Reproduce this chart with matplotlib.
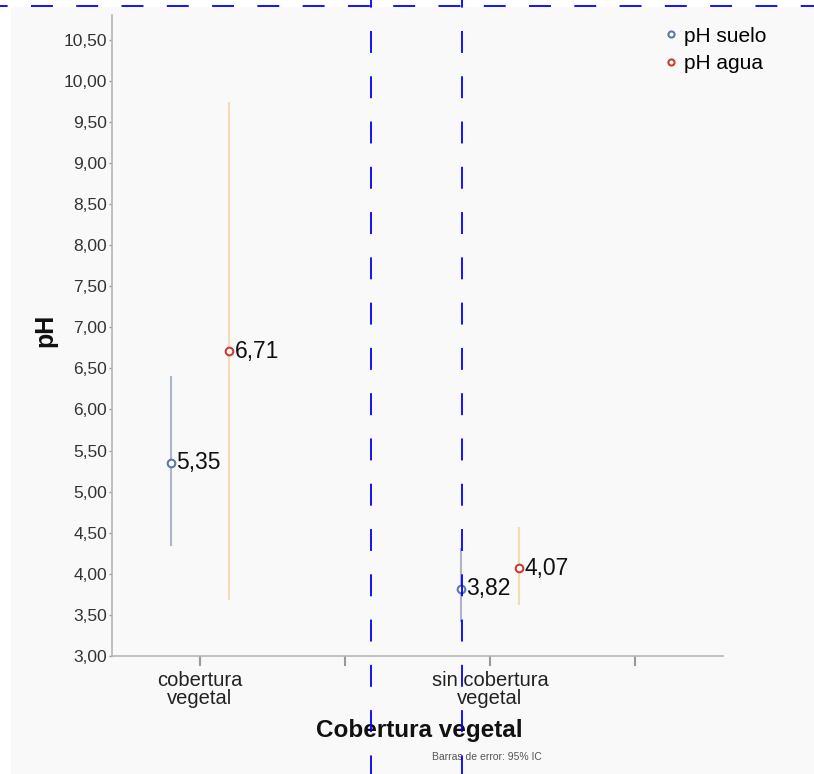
import matplotlib
matplotlib.use("Agg")
import matplotlib.pyplot as plt
from matplotlib.lines import Line2D
from matplotlib.patches import Rectangle
import numpy as np

plt.rcParams['font.family'] = ['Liberation Sans', 'DejaVu Sans']
plt.rcParams['lines.scale_dashes'] = False

# data
categories = ["cobertura\nvegetal", "sin cobertura\nvegetal"]
ph_suelo = [5.35, 3.82]
ph_suelo_lo = [4.34, 3.41]
ph_suelo_hi = [6.41, 4.31]
ph_agua = [6.71, 4.07]
ph_agua_lo = [3.68, 3.62]
ph_agua_hi = [9.74, 4.57]
yticks = np.arange(3.0, 10.51, 0.5)

W, H = 814, 774
fig = plt.figure(figsize=(W / 100, H / 100), dpi=100)
fig.patch.set_facecolor("white")
bg = "#f9f9f9"
fig.add_artist(Rectangle((11 / W, 0), 1, 1 - 7 / H, transform=fig.transFigure,
                         facecolor=bg, edgecolor="none", zorder=-10))

ax = fig.add_axes([112 / W, 1 - 656 / H, (723 - 112) / W, (656 - 15) / H])
ax.set_facecolor(bg)

pos = np.arange(len(categories)) * 2
off = 0.2
c_suelo, c_suelo_bar = "#5b76b0", "#aab5cb"
c_agua, c_agua_bar = "#cf3a36", "#f2dcb6"

xs = pos - off
xa = pos + off
ax.vlines(xs, ph_suelo_lo, ph_suelo_hi, color=c_suelo_bar, lw=1.5, zorder=2)
ax.vlines(xa, ph_agua_lo, ph_agua_hi, color=c_agua_bar, lw=1.5, zorder=2)
ax.plot(xs, ph_suelo, ls="none", marker="o", ms=5.5, mfc="white", mec=c_suelo, mew=1.5,
        zorder=3, label="pH suelo")
ax.plot(xa, ph_agua, ls="none", marker="o", ms=5.5, mfc="white", mec=c_agua, mew=1.5,
        zorder=3, label="pH agua")

for x, v in list(zip(xs, ph_suelo)) + list(zip(xa, ph_agua)):
    ax.annotate(f"{v:.2f}".replace(".", ","), (x, v), xytext=(4, 0),
                textcoords="offset points", ha="left", va="center",
                fontsize=16.5, color="#111111", zorder=4)

ax.set_xlim(-0.607, 3.607)
ax.set_ylim(3.0, 10.80)
ax.set_yticks(yticks)
ax.set_yticklabels([f"{v:.2f}".replace(".", ",") for v in yticks])
ax.set_xticks([0, 1, 2, 3])
ax.set_xticklabels([categories[0], "", categories[1], ""], linespacing=0.95)

for s in ["top", "right"]:
    ax.spines[s].set_visible(False)
for s in ["left", "bottom"]:
    ax.spines[s].set_color("#b5b5b5")
    ax.spines[s].set_linewidth(1.2)
ax.tick_params(axis="y", length=2.5, width=1, color="#999999", labelsize=12.5,
               labelcolor="#333333", pad=1)
ax.tick_params(axis="x", length=7.5, width=1.5, color="#999999", labelsize=14.5,
               labelcolor="#222222", pad=3)

leg = ax.legend(loc="upper left", bbox_to_anchor=(646 / W, 1 - 8 / H),
                bbox_transform=fig.transFigure, frameon=False, fontsize=15,
                handlelength=0.6, handletextpad=0.3, labelspacing=0.4,
                markerscale=0.8)

fig.text(419 / W, 1 - 731 / H, "Cobertura vegetal", ha="center", va="center",
         fontsize=17.5, fontweight="bold", color="#111111")
fig.text(45 / W, 1 - 330 / H, "pH", ha="center", va="center", rotation=90,
         fontsize=18, fontweight="bold", color="#111111")
fig.text(487 / W, 1 - 757 / H, "Barras de error: 95% IC", ha="center", va="center",
         fontsize=7.5, color="#555555")

# blue dashed guide lines
dash = (10.3, (15.8, 16.8))
fig.add_artist(Line2D([0, 1], [1 - 6 / H, 1 - 6 / H], transform=fig.transFigure,
                      color="#0000ff", lw=1.3, ls=dash, zorder=20))
for xv in [371, 462]:
    fig.add_artist(Line2D([xv / W, xv / W], [1, 0], transform=fig.transFigure,
                          color="#0000ff", lw=1.3, ls=dash, zorder=20))

fig.savefig("out.png", dpi=100, facecolor=fig.get_facecolor())
